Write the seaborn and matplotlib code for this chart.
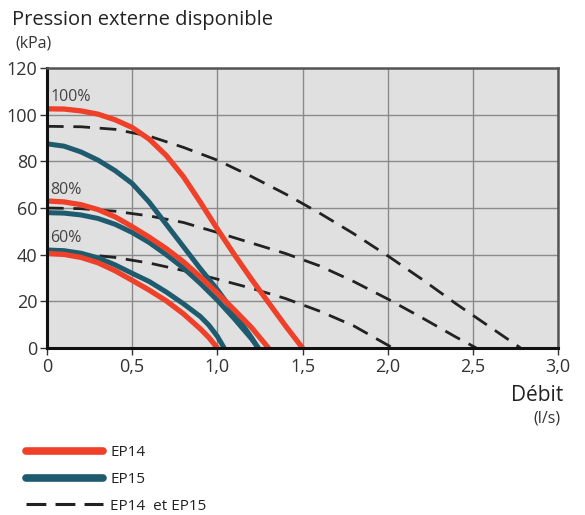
import pandas as pd
import numpy as np
import matplotlib
matplotlib.use("Agg")
import matplotlib.pyplot as plt
import seaborn as sns
from matplotlib.lines import Line2D

# --- data (debit in l/s, pression in kPa) ---
ep14_100_x = [0, 0.1, 0.2, 0.3, 0.4, 0.5, 0.6, 0.7, 0.8, 0.9, 1.0, 1.1, 1.2, 1.3, 1.4, 1.5]
ep14_100_y = [102.5, 102.4, 101.6, 100.2, 97.8, 94.5, 89.5, 82.5, 73.5, 62.5, 51, 40, 29.5, 19.5, 9.5, 0]

ep15_100_x = [0, 0.1, 0.2, 0.3, 0.4, 0.5, 0.6, 0.7, 0.8, 0.9, 1.0, 1.1, 1.2, 1.24]
ep15_100_y = [87.5, 86.5, 84, 80.5, 76, 70.5, 62.5, 53, 43.5, 34, 25, 15, 4.5, 0]

ep14_80_x = [0, 0.1, 0.2, 0.3, 0.4, 0.5, 0.6, 0.7, 0.8, 0.9, 1.0, 1.1, 1.2, 1.3]
ep14_80_y = [63, 62.6, 61.4, 59.3, 56.2, 52, 47.5, 42.6, 37, 30.5, 23.5, 16.3, 8.8, 0]

ep15_80_x = [0, 0.1, 0.2, 0.3, 0.4, 0.5, 0.6, 0.7, 0.8, 0.9, 1.0, 1.1, 1.2, 1.24]
ep15_80_y = [58, 57.8, 57, 55.5, 53, 49.5, 45.2, 40, 34.3, 27.7, 20.5, 12.5, 4, 0]

ep14_60_x = [0, 0.1, 0.2, 0.3, 0.4, 0.5, 0.6, 0.7, 0.8, 0.9, 0.95, 1.0]
ep14_60_y = [40.5, 40.1, 38.8, 36.5, 33.1, 29, 24.8, 20.2, 14.7, 8.2, 4.5, 0]

ep15_60_x = [0, 0.1, 0.2, 0.3, 0.4, 0.5, 0.6, 0.7, 0.8, 0.9, 0.95, 1.0, 1.04]
ep15_60_y = [42, 41.7, 40.6, 38.6, 35.6, 32, 28.5, 24, 19, 13.5, 9.8, 5, 0]

both_100_x = [0, 0.2, 0.4, 0.6, 0.8, 1.0, 1.2, 1.4, 1.6, 1.8, 2.0, 2.2, 2.4, 2.6, 2.78]
both_100_y = [95, 94.8, 93.7, 90.8, 86, 80.5, 73.5, 66, 57.8, 49, 39.5, 29.5, 19, 9, 0]

both_80_x = [0, 0.2, 0.4, 0.6, 0.8, 1.0, 1.2, 1.4, 1.6, 1.8, 2.0, 2.2, 2.4, 2.52]
both_80_y = [60, 59.7, 58.6, 56.6, 53.8, 49.5, 45, 40.5, 35.2, 28.5, 21, 13, 4.7, 0]

both_60_x = [0, 0.2, 0.4, 0.6, 0.8, 1.0, 1.2, 1.4, 1.6, 1.8, 2.03]
both_60_y = [41, 40.3, 38.8, 36.4, 33.2, 29.5, 25.6, 21.2, 15.8, 9.5, 0]

x_ticks = [0, 0.5, 1.0, 1.5, 2.0, 2.5, 3.0]
x_tick_labels = ["0", "0,5", "1,0", "1,5", "2,0", "2,5", "3,0"]
y_ticks = [0, 20, 40, 60, 80, 100, 120]
pct_labels = ["100%", "80%", "60%"]
pct_label_y = [107.5, 67.5, 47]

RED = "#ef4129"
BLUE = "#1f5b6e"
DARK = "#222222"

sns.set_style("white")
plt.rcParams["font.family"] = ["Open Sans", "DejaVu Sans"]

fig = plt.figure(figsize=(5.85, 5.15), dpi=100)
ax = fig.add_axes([0.0803, 0.3243, 0.8737, 0.5437])
ax.set_facecolor("#e0e0e0")

# dashed curves first, then EP15, then EP14 on top
for xs, ys in [(both_100_x, both_100_y), (both_80_x, both_80_y), (both_60_x, both_60_y)]:
    sns.lineplot(x=xs, y=ys, ax=ax, color=DARK, linewidth=2.0, sort=False, estimator=None)
    ax.lines[-1].set_dashes((6, 3.5))

for xs, ys in [(ep15_100_x, ep15_100_y), (ep15_80_x, ep15_80_y), (ep15_60_x, ep15_60_y)]:
    sns.lineplot(x=xs, y=ys, ax=ax, color=BLUE, linewidth=3.6, sort=False, estimator=None)
    ax.lines[-1].set_solid_joinstyle("round")

for xs, ys in [(ep14_100_x, ep14_100_y), (ep14_80_x, ep14_80_y), (ep14_60_x, ep14_60_y)]:
    sns.lineplot(x=xs, y=ys, ax=ax, color=RED, linewidth=3.8, sort=False, estimator=None)
    ax.lines[-1].set_solid_joinstyle("round")

for lab, yy in zip(pct_labels, pct_label_y):
    ax.text(0.02, yy, lab, fontsize=11.5, color="#444444", va="center", ha="left")

ax.set_xlim(0, 3)
ax.set_ylim(0, 120)
ax.set_xticks(x_ticks)
ax.set_xticklabels(x_tick_labels)
ax.set_yticks(y_ticks)
ax.tick_params(axis="both", labelsize=13, colors="#333333", length=5, width=1,
               direction="out", pad=2, bottom=True, left=True)
ax.grid(True, color="#8a8a8a", linewidth=1)
ax.set_axisbelow(True)
for side in ["left", "bottom"]:
    ax.spines[side].set_color("#111111")
    ax.spines[side].set_linewidth(2.2)
for side in ["top", "right"]:
    ax.spines[side].set_color("#555555")
    ax.spines[side].set_linewidth(1.8)
ax.set_xlabel("")
ax.set_ylabel("")

fig.text(0.02, 0.962, "Pression externe disponible", fontsize=14.5, color="#222222", va="center")
fig.text(0.027, 0.915, "(kPa)", fontsize=11.5, color="#333333", va="center")
fig.text(0.962, 0.232, "Débit", fontsize=15, color="#222222", va="center", ha="right")
fig.text(0.958, 0.188, "(l/s)", fontsize=11.5, color="#333333", va="center", ha="right")

handles = [Line2D([0], [0], color=RED, lw=5.5, solid_capstyle="round", label="EP14"),
           Line2D([0], [0], color=BLUE, lw=5.5, solid_capstyle="round", label="EP15"),
           Line2D([0], [0], color=DARK, lw=2.2, dashes=(6.5, 3), label="EP14  et EP15")]
fig.legend(handles=handles, loc="upper left", bbox_to_anchor=(0.045, 0.136), frameon=False,
           fontsize=11, handlelength=5.0, handletextpad=0.5, labelspacing=0.78,
           borderpad=0, borderaxespad=0, labelcolor="#222222")

fig.savefig("out.png", dpi=100)
